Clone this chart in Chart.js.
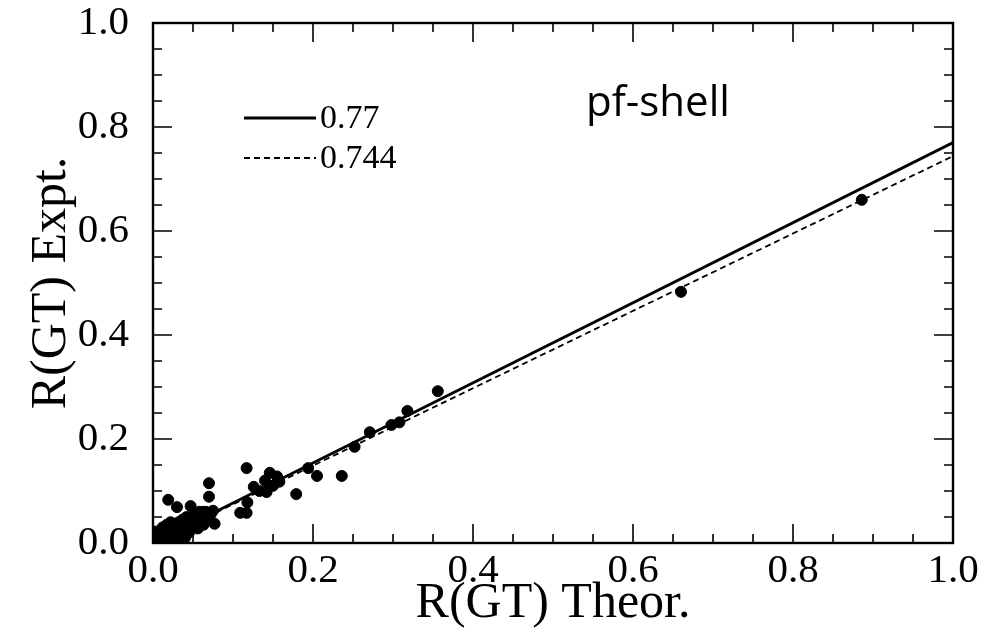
<!DOCTYPE html>
<html>
<head>
<meta charset="utf-8">
<script src="https://cdn.jsdelivr.net/npm/chart.js@4"></script>
<style>
  html, body { margin: 0; padding: 0; background: #fff; }
  #wrap { width: 1001px; height: 634px; }
</style>
</head>
<body>
<div id="wrap"><canvas id="gtChart" width="1001" height="634"></canvas></div>
<script>
// Gamow-Teller strengths, theory vs experiment
const theorX = [
  0.886, 0.660, 0.356, 0.318, 0.298, 0.308, 0.271, 0.252, 0.236, 0.205,
  0.194, 0.179, 0.146, 0.117, 0.126, 0.142, 0.150, 0.140, 0.158, 0.155,
  0.133, 0.109, 0.117, 0.118, 0.070, 0.070, 0.019, 0.030, 0.047, 0.077,
  0.062, 0.050, 0.005, 0.010, 0.015, 0.020, 0.025, 0.030, 0.035, 0.040,
  0.045, 0.050, 0.055, 0.060, 0.065, 0.012, 0.022, 0.032, 0.042, 0.052,
  0.058, 0.066, 0.027, 0.017, 0.008, 0.037, 0.046, 0.003, 0.072, 0.068,
  0.075, 0.063, 0.056, 0.040, 0.028, 0.034, 0.003, 0.013
]
const exptY = [
  0.660, 0.483, 0.292, 0.254, 0.227, 0.232, 0.213, 0.185, 0.129, 0.129,
  0.144, 0.094, 0.135, 0.144, 0.108, 0.098, 0.110, 0.120, 0.118, 0.128,
  0.100, 0.058, 0.058, 0.078, 0.115, 0.089, 0.083, 0.069, 0.071, 0.037,
  0.060, 0.048, 0.010, 0.004, 0.020, 0.002, 0.030, 0.015, 0.025, 0.035,
  0.020, 0.030, 0.040, 0.050, 0.045, 0.030, 0.040, 0.040, 0.050, 0.055,
  0.060, 0.060, 0.010, 0.035, 0.020, 0.045, 0.045, 0.005, 0.055, 0.045,
  0.062, 0.035, 0.028, 0.010, 0.024, 0.006, 0.022, 0.012
]

// fitted quenching factors: Expt = q * Theor
const fitLabels = ['0.77', '0.744']
const fitSlopes = [0.77, 0.744]
const fitRange = [0, 1]

const regionLabel = 'pf-shell'

const serif = '"Liberation Serif", "DejaVu Serif", serif'

const points = theorX.map((x, i) => ({ x, y: exptY[i] }))
const fitData = fitSlopes.map(q => fitRange.map(x => ({ x, y: q * x })))

// frame with inward ticks on all four sides, plus legend and label
const framePlugin = {
  id: 'frame',
  afterDatasetsDraw(chart) {
    const { ctx, chartArea: a, scales } = chart
    const xs = scales.x, ys = scales.y
    ctx.save()
    ctx.strokeStyle = '#000'
    ctx.lineWidth = 2.4
    ctx.strokeRect(a.left, a.top, a.right - a.left, a.bottom - a.top)
    ctx.lineWidth = 1.6
    for (let k = 0; k <= 20; k++) {
      const v = k * 0.05
      const len = k % 4 === 0 ? 19 : 9
      const px = xs.getPixelForValue(v)
      const py = ys.getPixelForValue(v)
      ctx.beginPath()
      ctx.moveTo(px, a.bottom); ctx.lineTo(px, a.bottom - len)
      ctx.moveTo(px, a.top); ctx.lineTo(px, a.top + len)
      ctx.moveTo(a.left, py); ctx.lineTo(a.left + len, py)
      ctx.moveTo(a.right, py); ctx.lineTo(a.right - len, py)
      ctx.stroke()
    }

    // legend
    ctx.font = '34px ' + serif
    ctx.fillStyle = '#000'
    ctx.textBaseline = 'middle'
    const ds = chart.data.datasets.filter(d => d.type === 'line')
    ds.forEach((d, i) => {
      const y = 118 + i * 40
      ctx.beginPath()
      ctx.lineWidth = d.borderWidth
      ctx.setLineDash(d.borderDash || [])
      ctx.moveTo(244, y); ctx.lineTo(316, y)
      ctx.stroke()
      ctx.setLineDash([])
      ctx.fillText(d.label, 320, y + 1)
    })

    ctx.font = '42px "Open Sans", sans-serif'
    ctx.textBaseline = 'alphabetic'
    ctx.fillText(regionLabel, 586, 116)
    ctx.restore()
  }
}

new Chart(document.getElementById('gtChart'), {
  data: {
    datasets: [
      {
        type: 'scatter',
        label: 'data',
        data: points,
        backgroundColor: '#000',
        borderColor: '#000',
        pointRadius: 5.5,
        pointHoverRadius: 5.5
      },
      {
        type: 'line',
        label: fitLabels[0],
        data: fitData[0],
        borderColor: '#000',
        borderWidth: 2.8,
        pointRadius: 0,
        fill: false
      },
      {
        type: 'line',
        label: fitLabels[1],
        data: fitData[1],
        borderColor: '#000',
        borderWidth: 1.8,
        borderDash: [6, 4],
        pointRadius: 0,
        fill: false
      }
    ]
  },
  options: {
    responsive: false,
    animation: false,
    layout: { padding: { left: 0, top: 23, right: 48, bottom: 0 } },
    plugins: {
      legend: { display: false },
      tooltip: { enabled: false }
    },
    scales: {
      x: {
        type: 'linear',
        min: 0,
        max: 1,
        afterFit(scale) {
          scale.height = 91
          scale.paddingLeft = 0
          scale.paddingRight = 0
        },
        grid: { display: false },
        border: { display: false },
        ticks: {
          stepSize: 0.2,
          padding: -4,
          color: '#000',
          font: { family: serif, size: 41 },
          callback: v => v.toFixed(1)
        },
        title: {
          display: true,
          text: 'R(GT) Theor.',
          color: '#000',
          font: { family: serif, size: 50 },
          padding: { top: 0, bottom: 0 }
        }
      },
      y: {
        type: 'linear',
        min: 0,
        max: 1,
        afterFit(scale) {
          scale.width = 153
          scale.paddingTop = 0
          scale.paddingBottom = 0
        },
        grid: { display: false },
        border: { display: false },
        ticks: {
          stepSize: 0.2,
          padding: 16,
          color: '#000',
          font: { family: serif, size: 41 },
          callback: v => v.toFixed(1)
        },
        title: {
          display: true,
          text: 'R(GT) Expt.',
          color: '#000',
          font: { family: serif, size: 50 },
          padding: { top: 22, bottom: 0 }
        }
      }
    }
  },
  plugins: [framePlugin]
})
</script>
</body>
</html>
